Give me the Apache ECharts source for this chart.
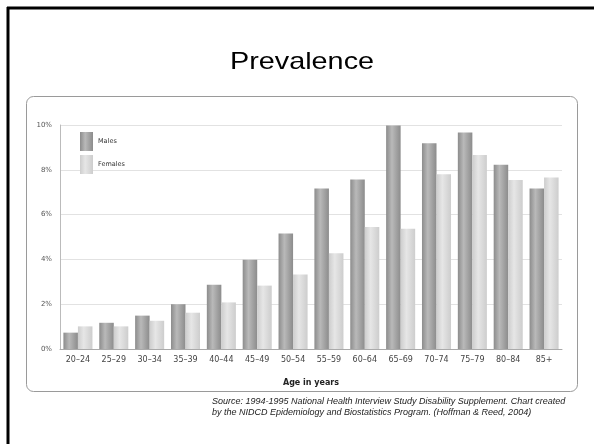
<!DOCTYPE html>
<html>
<head>
<meta charset="utf-8">
<script src="https://cdn.jsdelivr.net/npm/echarts@6/dist/echarts.min.js"></script>
<style>html,body{margin:0;padding:0;background:#fff;}#c{width:594px;height:444px;}</style>
</head>
<body>
<div id="c"></div>
<script>
const categories = ['20–24','25–29','30–34','35–39','40–44','45–49','50–54','55–59','60–64','65–69','70–74','75–79','80–84','85+'];
const males   = [0.73, 1.17, 1.49, 2.0, 2.87, 3.98, 5.16, 7.17, 7.57, 9.98, 9.18, 9.67, 8.23, 7.17];
const females = [1.01, 1.01, 1.26, 1.62, 2.08, 2.83, 3.33, 4.27, 5.45, 5.37, 7.8, 8.66, 7.54, 7.66];
const yTicks = [0, 2, 4, 6, 8, 10];

const chart = echarts.init(document.getElementById('c'), null, {renderer: 'canvas'});
const grad = (a, b) => new echarts.graphic.LinearGradient(0, 0, 1, 0, [
  {offset: 0, color: a}, {offset: 0.4, color: b}, {offset: 1, color: a}
]);
chart.setOption({
  animation: false,
  backgroundColor: '#fff',
  graphic: [
    {type: 'line', shape: {x1: 7, y1: 8, x2: 600, y2: 8}, style: {stroke: '#000', lineWidth: 3}, z: 10},
    {type: 'line', shape: {x1: 8, y1: 7, x2: 8, y2: 450}, style: {stroke: '#000', lineWidth: 3}, z: 10},
    {type: 'rect', shape: {x: 26.5, y: 96.5, width: 551, height: 295, r: 7},
     style: {fill: '#fff', stroke: '#9a9a9a', lineWidth: 1}, z: -10},
    {type: 'text', x: 302, y: 62, scaleX: 1.2, z: 10,
     style: {text: 'Prevalence', fontFamily: 'Liberation Sans, Arial', fontSize: 24, fill: '#000',
             textAlign: 'center', textVerticalAlign: 'middle', verticalAlign: 'middle'}},
    {type: 'text', x: 212, y: 396, z: 10,
     style: {text: 'Source: 1994-1995 National Health Interview Study Disability Supplement. Chart created\nby the NIDCD Epidemiology and Biostatistics Program. (Hoffman & Reed, 2004)',
             fontFamily: 'Liberation Sans, Arial', fontStyle: 'italic', fontSize: 9, lineHeight: 11, fill: '#222'}}
  ],
  legend: {
    orient: 'vertical', left: 75, top: 127, itemWidth: 13, itemHeight: 19, itemGap: 4,
    icon: 'rect',
    textStyle: {fontSize: 6.5, color: '#333', fontFamily: 'DejaVu Sans'},
    data: ['Males', 'Females']
  },
  grid: {left: 60, right: 32, top: 125, bottom: 95, containLabel: false},
  xAxis: {
    type: 'category', data: categories,
    name: 'Age in years', nameLocation: 'middle', nameGap: 30,
    nameTextStyle: {fontSize: 8, fontWeight: 'bold', color: '#222', fontFamily: 'DejaVu Sans'},
    axisLine: {lineStyle: {color: '#aaa', width: 1}},
    axisTick: {show: false},
    axisLabel: {fontSize: 8, color: '#444', margin: 7, fontFamily: 'DejaVu Sans'}
  },
  yAxis: {
    type: 'value', min: 0, max: 10, interval: 2,
    axisLine: {show: true, lineStyle: {color: '#bbb'}},
    axisTick: {show: false},
    axisLabel: {fontSize: 7, color: '#555', margin: 8, fontFamily: 'DejaVu Sans',
      formatter: v => yTicks.includes(v) ? v + '%' : ''},
    splitLine: {lineStyle: {color: '#e2e2e2', width: 1}}
  },
  series: [
    {name: 'Males', type: 'bar', data: males, barGap: '0%', barCategoryGap: '19%',
     itemStyle: {color: grad('#8c8c8c', '#b9b9b9')}},
    {name: 'Females', type: 'bar', data: females, barGap: '0%', barCategoryGap: '19%',
     itemStyle: {color: grad('#cdcdcd', '#e6e6e6')}}
  ]
});
</script>
</body>
</html>
